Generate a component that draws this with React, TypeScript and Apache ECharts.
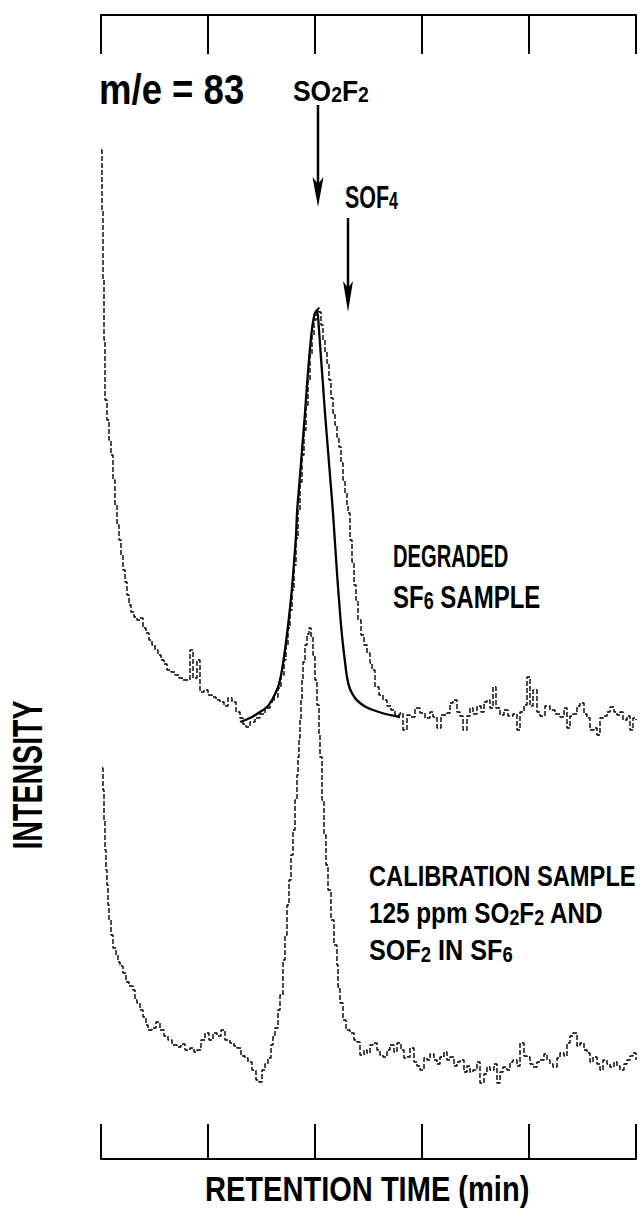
import React, { useEffect, useRef } from "react";
import * as echarts from "echarts";

// x: scan number (107 scans per tick), y: detector counts (arbitrary units)
const tickScans = [0, 107, 214, 321, 428, 535];

const degradedTrace: [number, number][] = [
  [0, 1009], [1, 949], [2, 879], [3, 819], [4, 759], [6, 739], [8, 719], [10, 704], [12, 679], [14, 654],
  [16, 634], [18, 619], [20, 604], [22, 589], [24, 577], [26, 564], [28, 554], [30, 547], [33, 542], [36, 539],
  [39, 541], [42, 531], [45, 526], [48, 519], [51, 514], [54, 509], [57, 504], [60, 499], [63, 495], [66, 489],
  [70, 487], [74, 484], [78, 481], [82, 479], [86, 479], [89, 509], [92, 481], [96, 499], [99, 467], [103, 469],
  [107, 464], [111, 462], [115, 459], [119, 457], [123, 453], [127, 461], [131, 457], [135, 447], [139, 441], [142, 435],
  [145, 432], [149, 437], [154, 441], [159, 445], [164, 451], [169, 457], [173, 462], [177, 471], [180, 484], [183, 499],
  [185, 514], [187, 531], [189, 549], [191, 569], [193, 594], [195, 621], [197, 649], [199, 677], [201, 704], [203, 729],
  [205, 754], [207, 779], [209, 804], [211, 824], [213, 839], [215, 848], [217, 851], [218, 847], [220, 834], [222, 819],
  [224, 807], [226, 796], [228, 779], [230, 761], [232, 746], [234, 734], [236, 722], [238, 712], [240, 696], [242, 679],
  [244, 666], [246, 654], [247, 646], [249, 619], [251, 597], [253, 574], [255, 559], [257, 539], [260, 524], [263, 514],
  [266, 506], [269, 496], [271, 489], [274, 472], [278, 464], [282, 459], [286, 453], [290, 449], [294, 444], [299, 446],
  [302, 429], [306, 444], [309, 442], [314, 451], [319, 446], [324, 441], [329, 447], [332, 442], [336, 431], [340, 444],
  [346, 446], [349, 456], [352, 459], [356, 447], [359, 443], [362, 429], [366, 443], [369, 451], [372, 445], [376, 453],
  [380, 447], [383, 457], [386, 459], [389, 451], [392, 472], [395, 451], [399, 444], [403, 449], [407, 443], [412, 445],
  [416, 429], [419, 447], [423, 454], [426, 482], [429, 453], [432, 469], [436, 447], [439, 443], [444, 453], [449, 449],
  [454, 445], [459, 442], [463, 451], [466, 431], [469, 443], [472, 445], [476, 453], [479, 456], [483, 445], [486, 441],
  [489, 429], [493, 431], [496, 424], [499, 441], [502, 443], [506, 447], [509, 452], [513, 447], [516, 444], [519, 447],
  [522, 439], [526, 443], [529, 429], [532, 441], [535, 439],
];

const degradedFit: [number, number][] = [
  [139, 437], [149, 441], [159, 447], [167, 453], [171, 459], [175, 467], [178, 475], [181, 489], [184, 509], [187, 533],
  [189, 551], [191, 571], [193, 596], [195, 623], [196, 646], [198, 671], [200, 696], [202, 721], [204, 746], [206, 774],
  [208, 799], [210, 821], [212, 837], [214, 846], [216, 849], [218, 829], [220, 801], [222, 774], [224, 746], [226, 721],
  [228, 696], [230, 671], [232, 646], [234, 616], [236, 586], [238, 559], [240, 534], [242, 514], [244, 497], [246, 482],
  [249, 470], [254, 461], [259, 456], [265, 452], [272, 449], [281, 446], [289, 444], [299, 442],
];

const calibrationTrace: [number, number][] = [
  [1, 391], [2, 369], [3, 339], [4, 309], [5, 289], [6, 274], [7, 254], [8, 239], [10, 224], [12, 211],
  [15, 204], [17, 197], [19, 193], [22, 186], [25, 177], [28, 173], [32, 169], [34, 159], [36, 156], [39, 149],
  [42, 142], [45, 134], [47, 129], [51, 131], [55, 137], [59, 129], [63, 123], [67, 119], [71, 114], [76, 112],
  [80, 115], [84, 109], [89, 111], [93, 107], [96, 109], [100, 119], [104, 126], [108, 119], [112, 126], [116, 123],
  [120, 129], [124, 119], [129, 116], [133, 113], [136, 111], [140, 103], [144, 101], [147, 97], [151, 89], [155, 79],
  [158, 77], [161, 89], [164, 95], [167, 101], [170, 114], [172, 124], [174, 131], [177, 149], [179, 164], [182, 199],
  [184, 224], [186, 254], [188, 279], [190, 304], [192, 329], [194, 359], [196, 384], [197, 402], [198, 421], [199, 439],
  [200, 459], [201, 479], [202, 497], [204, 514], [206, 525], [208, 531], [210, 523], [212, 504], [214, 479], [216, 454],
  [218, 424], [219, 402], [221, 359], [223, 324], [225, 294], [227, 269], [230, 239], [233, 214], [236, 194], [237, 172],
  [239, 156], [242, 139], [245, 129], [249, 126], [253, 119], [256, 117], [259, 104], [263, 109], [266, 106], [269, 114],
  [272, 116], [276, 109], [279, 104], [282, 102], [286, 109], [289, 114], [293, 107], [296, 116], [300, 109], [303, 101],
  [306, 102], [309, 111], [313, 97], [316, 93], [319, 89], [323, 101], [326, 99], [329, 105], [333, 99], [336, 95],
  [339, 102], [343, 107], [346, 99], [349, 102], [353, 93], [356, 97], [359, 99], [363, 87], [366, 93], [369, 87],
  [372, 89], [376, 97], [379, 76], [383, 85], [386, 92], [389, 89], [393, 95], [396, 76], [399, 87], [402, 92],
  [406, 89], [409, 97], [412, 99], [416, 93], [419, 116], [423, 103], [426, 102], [429, 95], [432, 92], [436, 97],
  [439, 99], [443, 105], [446, 99], [449, 95], [452, 92], [456, 101], [459, 106], [463, 103], [466, 116], [469, 123],
  [472, 126], [476, 113], [479, 116], [483, 109], [486, 106], [489, 97], [492, 102], [496, 95], [499, 89], [502, 99],
  [506, 95], [509, 92], [513, 97], [516, 93], [519, 89], [523, 95], [526, 99], [529, 103], [532, 106], [535, 99],
];

const FONT = "'Liberation Sans', Arial, sans-serif";

function txt(x: number, y: number, text: string, size: number, scaleX: number, weight: string, rich?: any) {
  return {
    type: "text",
    x,
    y,
    scaleX,
    style: {
      text,
      fontSize: size,
      fontFamily: FONT,
      fontWeight: weight,
      fill: "#000",
      verticalAlign: "middle",
      align: "left",
      rich,
    },
  };
}

function richSet(main: number, sub: number, weight: string) {
  return {
    m: { fontSize: main, fontFamily: FONT, fontWeight: weight, fill: "#000" },
    s: { fontSize: sub, fontFamily: FONT, fontWeight: weight, fill: "#000", verticalAlign: "bottom" },
  };
}

export default function App() {
  const ref = useRef<HTMLDivElement>(null);
  useEffect(() => {
    document.body.style.margin = "0";
    const chart = echarts.init(ref.current!, undefined, { renderer: "svg" });
    const axisCommon = {
      type: "value",
      min: tickScans[0],
      max: tickScans[tickScans.length - 1],
      interval: tickScans[1] - tickScans[0],
      axisLabel: { show: false },
      splitLine: { show: false },
      axisLine: { show: true, lineStyle: { color: "#000", width: 2 } },
    };
    chart.setOption({
      animation: false,
      backgroundColor: "#fff",
      grid: { left: 101, right: 4, top: 15, bottom: 53 },
      xAxis: [
        { ...axisCommon, position: "bottom", axisTick: { show: true, inside: true, length: 35, lineStyle: { color: "#000", width: 2 } } },
        { ...axisCommon, position: "top", axisTick: { show: true, inside: true, length: 39, lineStyle: { color: "#000", width: 2 } } },
      ],
      yAxis: { type: "value", min: 0, max: 1144, show: false },
      series: [
        {
          type: "line",
          name: "Degraded SF6 sample",
          data: degradedTrace,
          step: "end",
          symbol: "none",
          lineStyle: { color: "#000", width: 1.4, type: [5, 2] },
        },
        {
          type: "line",
          name: "Fit",
          data: degradedFit,
          smooth: 0.3,
          symbol: "none",
          lineStyle: { color: "#000", width: 2.3 },
        },
        {
          type: "line",
          name: "Calibration sample",
          data: calibrationTrace,
          step: "end",
          symbol: "none",
          lineStyle: { color: "#000", width: 1.4, type: [5, 2] },
        },
      ],
      graphic: [
        txt(99, 89, "m/e = 83", 42, 0.87, "bold"),
        txt(293, 90, "{m|SO}{s|2}{m|F}{s|2}", 30, 0.88, "bold", richSet(30, 22, "bold")),
        txt(345, 197, "{m|SOF}{s|4}", 32, 0.67, "bold", richSet(32, 24, "bold")),
        txt(393, 556, "DEGRADED", 32, 0.63, "bold"),
        txt(393, 597, "{m|SF}{s|6}{m| SAMPLE}", 32, 0.75, "bold", richSet(32, 24, "bold")),
        txt(369, 876, "CALIBRATION SAMPLE", 30, 0.79, "bold"),
        txt(369, 913, "{m|125 ppm SO}{s|2}{m|F}{s|2}{m| AND}", 30, 0.81, "bold", richSet(30, 22, "bold")),
        txt(369, 950, "{m|SOF}{s|2}{m| IN SF}{s|6}", 30, 0.84, "bold", richSet(30, 22, "bold")),
        txt(205, 1189, "RETENTION TIME (min)", 35, 0.83, "bold"),
        {
          type: "text",
          x: 27,
          y: 775,
          rotation: Math.PI / 2,
          scaleX: 0.68,
          style: { text: "INTENSITY", fontSize: 42, fontFamily: FONT, fontWeight: "bold", fill: "#000", align: "center", verticalAlign: "middle" },
        },
        { type: "line", shape: { x1: 318, y1: 105, x2: 318, y2: 190 }, style: { stroke: "#000", lineWidth: 2.5 } },
        { type: "polygon", shape: { points: [[312.5, 177], [318, 207], [323.5, 177], [318, 184]] }, style: { fill: "#000" } },
        { type: "line", shape: { x1: 348, y1: 218, x2: 348, y2: 295 }, style: { stroke: "#000", lineWidth: 2.5 } },
        { type: "polygon", shape: { points: [[343, 281], [348, 312], [353, 281], [348, 288]] }, style: { fill: "#000" } },
      ],
    });
    return () => chart.dispose();
  }, []);
  return <div ref={ref} style={{ width: 640, height: 1212 }} />;
}
